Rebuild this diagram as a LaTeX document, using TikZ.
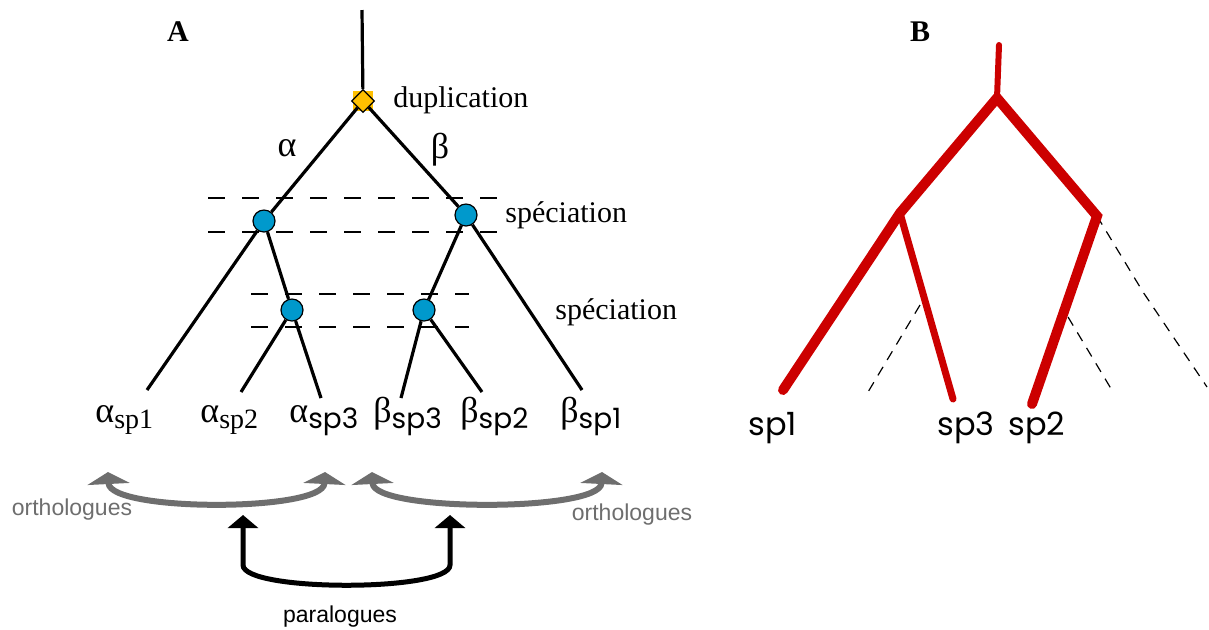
\documentclass[tikz,border=0pt]{standalone}
\usepackage{fontspec}
\setmainfont{Liberation Serif}
\newfontfamily\geofont{Poppins}
\newfontfamily\arialfont{Liberation Sans}
\usetikzlibrary{arrows.meta, shapes.geometric}
\definecolor{dupyellow}{HTML}{FFC000}
\definecolor{specblue}{HTML}{0099CC}
\definecolor{treered}{HTML}{CC0000}
\definecolor{orthogray}{HTML}{6E6E6E}
\newcommand{\genetip}[2]{{\fontsize{18}{18}\selectfont #1}\raisebox{-3pt}{\fontsize{14}{14}\selectfont #2}}

\begin{document}
\begin{tikzpicture}[
      x=0.5pt, y=-0.5pt,
      every node/.style={font=\fontsize{15}{15}\selectfont, inner sep=0pt},
      gene/.style={line width=1.6pt},
      spec/.style={circle, draw, fill=specblue, minimum size=11pt, line width=0.6pt},
      dup/.style={diamond, draw, fill=dupyellow, minimum size=11.5pt, line width=0.6pt},
      cut/.style={dash pattern=on 8.5pt off 8.5pt, line width=0.6pt},
      ortho/.style={draw=orthogray, line width=3pt,
        {Triangle[width=21pt,length=6pt]}-{Triangle[width=21pt,length=6pt]}},
      para/.style={line width=2.5pt,
        {Triangle[width=15pt,length=6.5pt]}-{Triangle[width=15pt,length=6.5pt]}},
      homlbl/.style={font=\arialfont\fontsize{11.5}{11.5}\selectfont},
      sptree/.style={treered, line width=5pt, line cap=round},
      ghost/.style={dash pattern=on 5pt off 4pt, line width=0.6pt},
    ]
    \useasboundingbox (0,0) rectangle (1209,629);

    % A: gene tree
    \node (A) at (178,32) {\bfseries A};
    \draw[cut] (208,198) -- (503,198);
    \draw[cut] (208,232) -- (503,232);
    \draw[cut] (251,294) -- (469,294);
    \draw[cut] (251,327) -- (469,327);

    \fill[dupyellow] (353,91) rectangle (373,111);
    \node[dup] (dup) at (363,101) {};
    \node[spec] (sa) at (264,221) {};
    \node[spec] (sb) at (466,215) {};
    \node[spec] (sa2) at (292,310) {};
    \node[spec] (sb2) at (424,310) {};
    \coordinate (top) at (362,10);
    \coordinate (a1) at (147,390);
    \coordinate (a2) at (241,392);
    \coordinate (a3) at (321,398);
    \coordinate (b3) at (401,398);
    \coordinate (b2) at (482,392);
    \coordinate (b1) at (582,390);

    \draw[gene] (top) -- (dup);
    \draw[gene] (dup) -- (sa);
    \draw[gene] (dup) -- (sb);
    \draw[gene] (sa) -- (a1);
    \draw[gene] (sa) -- (sa2);
    \draw[gene] (sa2) -- (a2);
    \draw[gene] (sa2) -- (a3);
    \draw[gene] (sb) -- (b1);
    \draw[gene] (sb) -- (sb2);
    \draw[gene] (sb2) -- (b3);
    \draw[gene] (sb2) -- (b2);

    \node[anchor=west] (duplbl) at (393,100) {duplication};
    \node[anchor=west] (speclbl1) at (505,215) {spéciation};
    \node[anchor=west] (speclbl2) at (555,312) {spéciation};
    \node[font=\fontsize{18}{18}\selectfont] (alpha) at (287,148) {α};
    \node[font=\fontsize{18}{18}\selectfont] (beta) at (440,150) {β};

    \node[anchor=base west] (ta1) at (95,422) {\genetip{α}{sp1}};
    \node[anchor=base west] (ta2) at (200,422) {\genetip{α}{sp2}};
    \node[anchor=base west] (ta3) at (289,422) {\genetip{α}{\geofont sp3}};
    \node[anchor=base west] (tb3) at (373,422) {\genetip{β}{\geofont sp3}};
    \node[anchor=base west] (tb2) at (460,422) {\genetip{β}{\geofont sp2}};
    \node[anchor=base west] (tb1) at (560,422) {\genetip{β}{\geofont sp1}};

    % homology arrows
    \coordinate (ol1) at (108,472);
    \coordinate (or1) at (325,472);
    \coordinate (ol2) at (372,472);
    \coordinate (or2) at (602,472);
    \coordinate (pl) at (243,515);
    \coordinate (pr) at (450,515);
    \draw[ortho] (ol1) .. controls (110,512) and (323,512) .. (or1);
    \draw[ortho] (ol2) .. controls (374,512) and (600,512) .. (or2);
    \draw[para] (pl) -- (243,565) .. controls (243,592) and (450,592) .. (450,565) -- (pr);
    \node[homlbl, text=orthogray] (orth1) at (72,510) {orthologues};
    \node[homlbl, text=orthogray] (orth2) at (632,515) {orthologues};
    \node[homlbl] (paral) at (340,617) {paralogues};

    % B: species tree
    \node (B) at (920,32) {\bfseries B};
    \coordinate (r0) at (999,45);
    \coordinate (rr) at (997,98);
    \coordinate (rl) at (900,213);
    \coordinate (rrt) at (1097,216);
    \coordinate (t1) at (783,390);
    \coordinate (t3) at (953,399);
    \coordinate (t2) at (1032,404);
    \draw[ghost] (rrt) -- (1143,292) -- (1207,387);
    \draw[ghost] (1068,317) -- (1113,392);
    \draw[ghost] (920,305) -- (868,392);
    \draw[sptree, line width=3pt] (r0) -- (rr);
    \draw[sptree] (rr) -- (rl) -- (t1);
    \draw[sptree, line width=3.5pt] (rl) -- (t3);
    \draw[sptree] (rr) -- (rrt) -- (t2);
    \node[anchor=base west, font=\geofont\fontsize{16}{16}\selectfont] (sp1) at (748,435) {sp1};
    \node[anchor=base west, font=\geofont\fontsize{16}{16}\selectfont] (sp3) at (937,435) {sp3};
    \node[anchor=base west, font=\geofont\fontsize{16}{16}\selectfont] (sp2) at (1008,435) {sp2};
  \end{tikzpicture}
\end{document}
